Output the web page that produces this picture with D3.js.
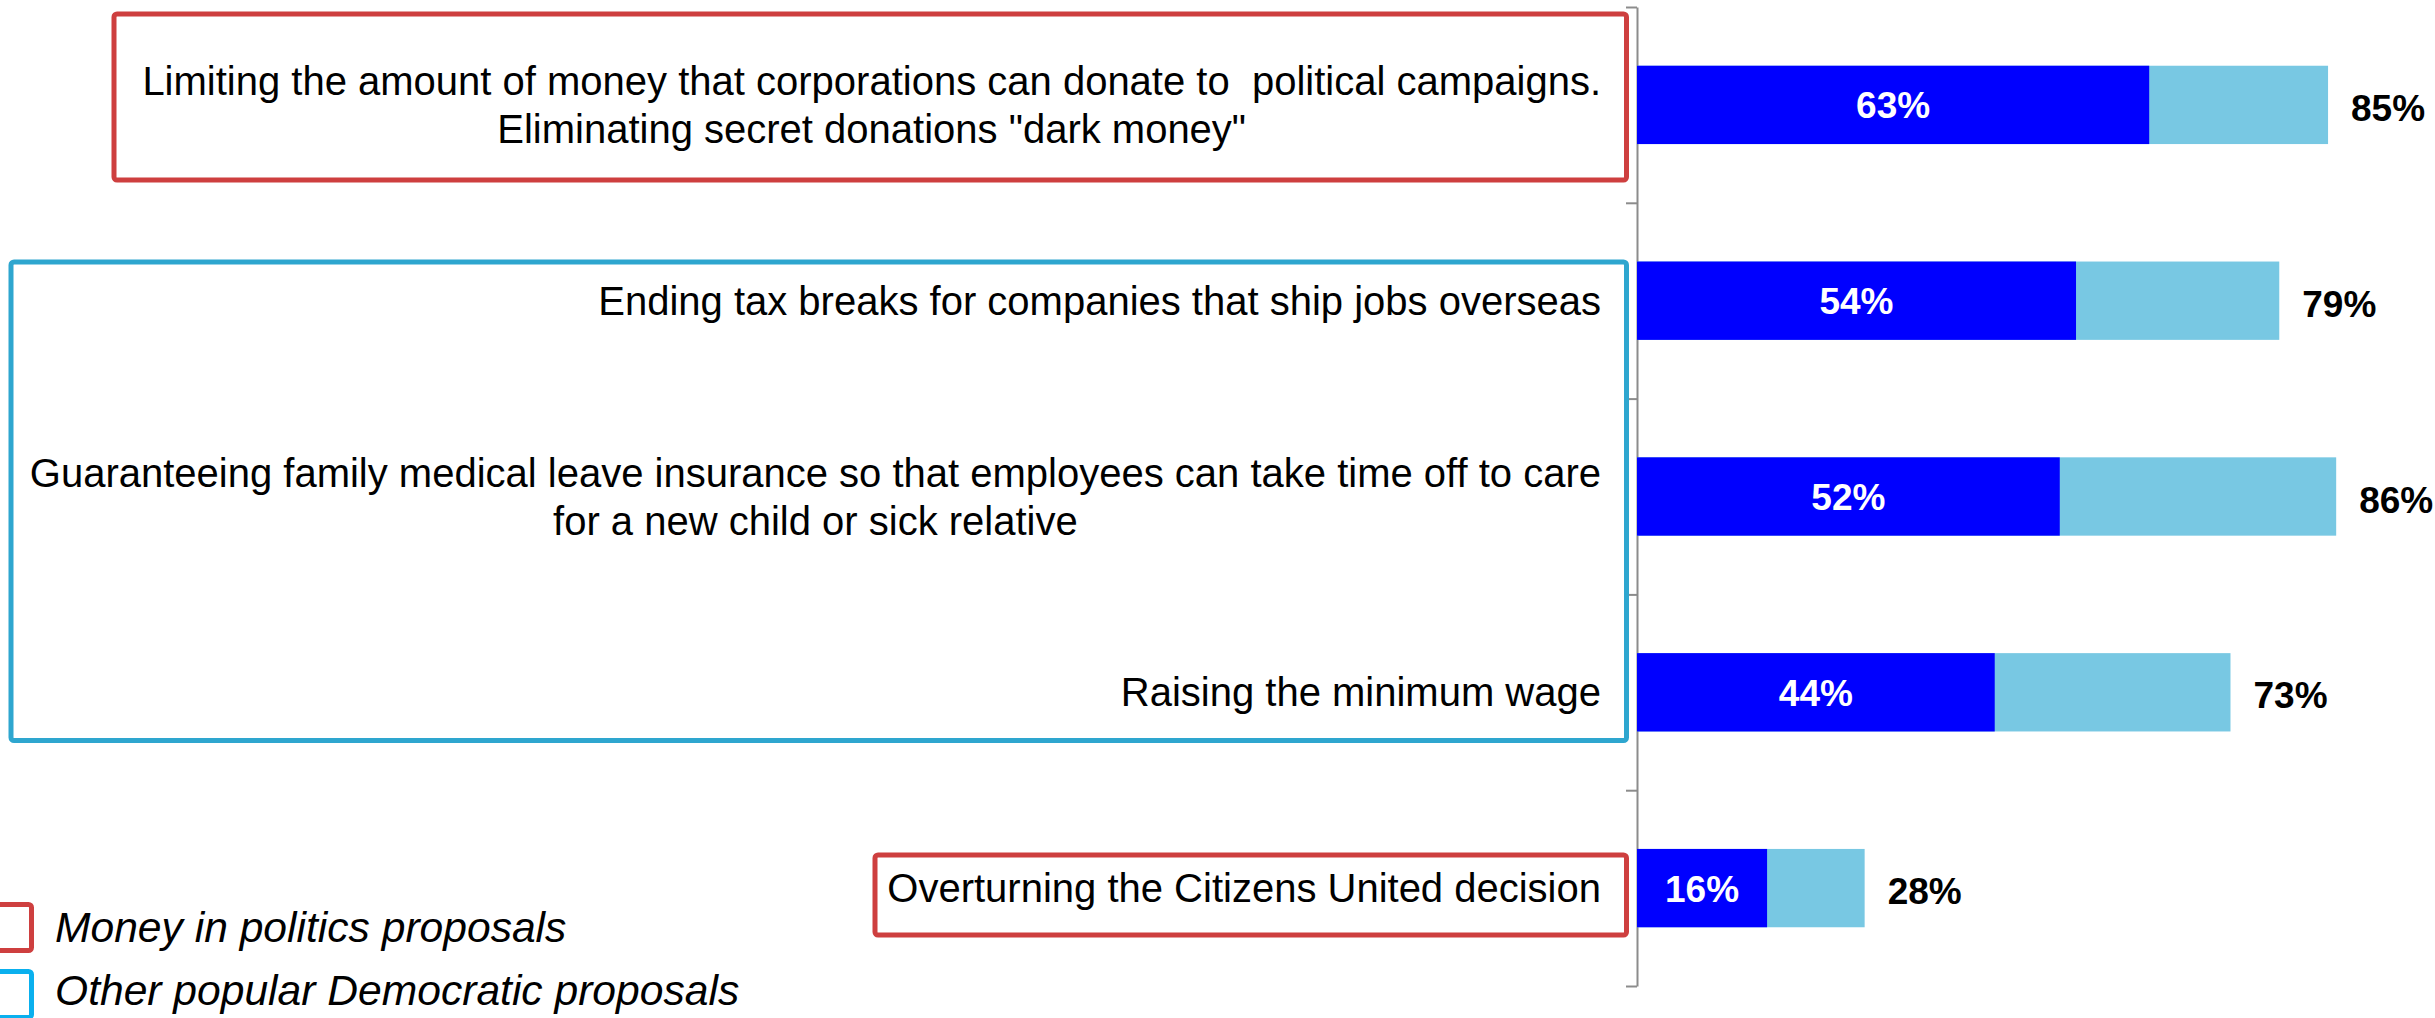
<!DOCTYPE html>
<html><head><meta charset="utf-8">
<script src="https://cdn.jsdelivr.net/npm/d3@7"></script>
<style>html,body{margin:0;padding:0;background:#fff;overflow:hidden}text{font-family:"Liberation Sans",Arial,sans-serif}</style>
</head><body><svg id="c" width="2435" height="1018"></svg>
<script>
// ---- data ----
const categories = [
  "Limiting the amount of money that corporations can donate to  political campaigns. Eliminating secret donations \"dark money\"",
  "Ending tax breaks for companies that ship jobs overseas",
  "Guaranteeing family medical leave insurance so that employees can take time off to care for a new child or sick relative",
  "Raising the minimum wage",
  "Overturning the Citizens United decision"
];
const labelLines = [
  ["Limiting the amount of money that corporations can donate to  political campaigns.", "Eliminating secret donations \"dark money\""],
  ["Ending tax breaks for companies that ship jobs overseas"],
  ["Guaranteeing family medical leave insurance so that employees can take time off to care", "for a new child or sick relative"],
  ["Raising the minimum wage"],
  ["Overturning the Citizens United decision"]
];
const strongSupport = [63, 54, 52, 44, 16];
const totalSupport  = [85, 79, 86, 73, 28];
const categoryGroup = ["money", "other", "other", "other", "money"];
const legendKeys   = ["money", "other"];
const legendLabels = ["Money in politics proposals", "Other popular Democratic proposals"];

// ---- styles ----
const C = {dark:"#0000FF", light:"#78C8E3", red:"#CE3F3F", cyanBox:"#2EA6CF", cyanLegend:"#0AB0EE", axis:"#8C8C8C"};
const svg = d3.select("#c");

const x = d3.scaleLinear().domain([0, 100]).range([1637, 1637 + 813]);
const y = d3.scaleBand().domain(categories).range([7, 986]).paddingInner(0.6).paddingOuter(0.3);
const yIdx = d3.scaleLinear().domain([0, categories.length]).range([7, 986]);

const rows = categories.map((c, i) => ({c, i, strong: strongSupport[i], total: totalSupport[i], lines: labelLines[i], g: categoryGroup[i]}));

// axis (ticks between categories)
const axisG = svg.append("g").attr("transform", `translate(${x(0)},0)`)
  .call(d3.axisLeft(yIdx).tickValues(d3.range(categories.length + 1)).tickFormat("").tickSize(11).tickSizeOuter(0));
axisG.select(".domain").attr("stroke", C.axis).attr("stroke-width", 2);
axisG.selectAll(".tick line").attr("stroke", C.axis).attr("stroke-width", 2);

// bars
svg.append("g").selectAll("rect").data(rows).join("rect")
  .attr("x", d => x(0)).attr("y", d => y(d.c))
  .attr("width", d => x(d.total) - x(0)).attr("height", y.bandwidth())
  .attr("fill", C.light);
svg.append("g").selectAll("rect").data(rows).join("rect")
  .attr("x", d => x(0)).attr("y", d => y(d.c))
  .attr("width", d => x(d.strong) - x(0)).attr("height", y.bandwidth())
  .attr("fill", C.dark);

// value labels
svg.append("g").selectAll("text").data(rows).join("text")
  .attr("x", d => (x(0) + x(d.strong)) / 2).attr("y", d => y(d.c) + y.bandwidth() / 2 + 13.5)
  .attr("text-anchor", "middle").attr("fill", "#fff").attr("font-weight", "bold").attr("font-size", 37)
  .text(d => d.strong + "%");
svg.append("g").selectAll("text").data(rows).join("text")
  .attr("x", d => x(d.total) + 23).attr("y", d => y(d.c) + y.bandwidth() / 2 + 16)
  .attr("fill", "#000").attr("font-weight", "bold").attr("font-size", 37)
  .text(d => d.total + "%");

// category labels: block right-aligned, lines centered within block
const labelRight = x(0) - 36;
const lineH = 48;
const labG = svg.append("g");
rows.forEach(d => {
  const t = labG.append("text").attr("font-size", 40).attr("fill", "#000")
    .attr("text-anchor", "middle").style("white-space", "pre");
  const n = d.lines.length;
  const cy = y(d.c) + y.bandwidth() / 2;
  const tsp = d.lines.map((ln, k) => t.append("tspan").attr("y", cy + (k - (n - 1) / 2) * lineH + 14).text(ln));
  const w = d3.max(tsp, s => s.node().getComputedTextLength());
  tsp.forEach(s => s.attr("x", labelRight - w / 2));
});

// group boxes (annotation frames around the label areas)
const boxes = [
  {from: 0, to: 0, left: 114, top: 14, bottom: 180, color: C.red},
  {from: 1, to: 3, left: 11, top: 262, bottom: 740.5, color: C.cyanBox},
  {from: 4, to: 4, left: 875, top: 855, bottom: 935, color: C.red}
];
svg.append("g").selectAll("rect").data(boxes).join("rect")
  .attr("x", b => b.left).attr("y", b => b.top)
  .attr("width", b => x(0) - 10.5 - b.left).attr("height", b => b.bottom - b.top)
  .attr("rx", 3).attr("fill", "none").attr("stroke", b => b.color).attr("stroke-width", 5);

// legend
const legColors = {money: C.red, other: C.cyanLegend};
const leg = svg.append("g");
legendKeys.forEach((k, i) => {
  const top = 904.5 + i * 67;
  leg.append("rect").attr("x", -14.5).attr("y", top).attr("width", 46).attr("height", 46)
    .attr("rx", 3).attr("fill", "none").attr("stroke", legColors[k]).attr("stroke-width", 5);
  leg.append("text").attr("x", 55).attr("y", 942 + i * 63).attr("font-size", 42.6)
    .attr("font-style", "italic").attr("fill", "#000").text(legendLabels[i]);
});
</script></body></html>
